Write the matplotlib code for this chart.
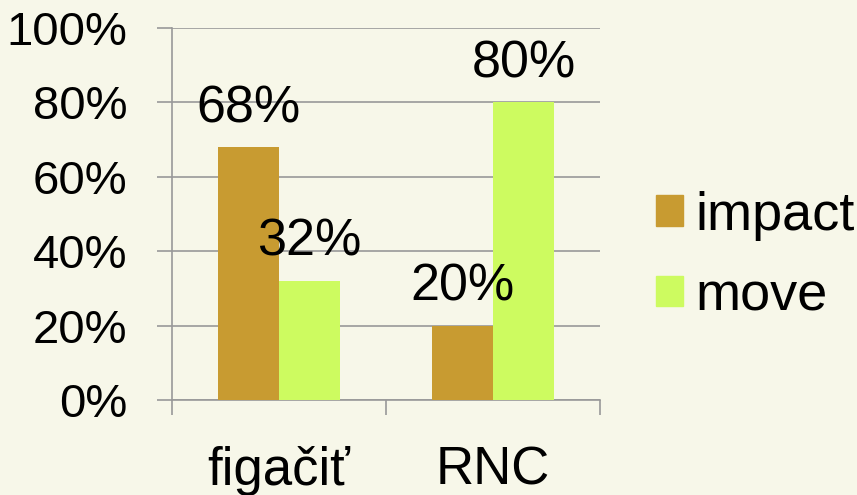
import numpy as np
import matplotlib.pyplot as plt
from matplotlib.patches import Patch

categories = ['figačiť', 'RNC']
series = ['impact', 'move']
impact = [68, 20]
move = [32, 80]
colors = ['#C89B31', '#CDFB60']
bg = '#F7F7E9'

plt.rcParams['font.family'] = ['Liberation Sans', 'DejaVu Sans']

fig = plt.figure(figsize=(8.57, 4.95), dpi=100, facecolor=bg)
ax = fig.add_axes([172 / 857, 1 - 400 / 495, 428 / 857, 372 / 495])
ax.set_facecolor(bg)

x = np.arange(len(categories))
w = 0.285
vals = [impact, move]
for i, (name, v) in enumerate(zip(series, vals)):
    pos = x + (i - 0.5) * w
    ax.bar(pos, v, width=w, color=colors[i], label=name, zorder=3)
    for px, pv in zip(pos, v):
        ax.annotate(f'{pv}%', (px, pv), xytext=(0, 18), textcoords='offset points',
                    ha='center', va='baseline', fontsize=37.5, zorder=4)

ax.set_xlim(-0.5, 1.5)
ax.set_ylim(0, 100)
ax.set_yticks(range(0, 101, 20))
ax.set_yticklabels([f'{t}%' for t in range(0, 101, 20)], fontsize=34)
ax.set_xticks([0, 1])
ax.set_xticklabels(categories, fontsize=38)
ax.set_xticks([-0.5, 0.5, 1.5], minor=True)
ax.tick_params(axis='x', which='major', length=0, pad=33)
ax.tick_params(axis='x', which='minor', length=11, color='#999999', width=1.2)
ax.tick_params(axis='y', length=11, color='#999999', width=1.2, pad=21)
ax.grid(axis='y', color='#999999', linewidth=1.2, zorder=0)
for s in ['top', 'right']:
    ax.spines[s].set_visible(False)
ax.spines['left'].set_color('#999999')
ax.spines['bottom'].set_color('#999999')
ax.spines['left'].set_linewidth(1.2)
ax.spines['bottom'].set_linewidth(1.2)

handles = [Patch(color=c) for c in colors]
fig.legend(handles, series, loc='center left', bbox_to_anchor=(607 / 857, 1 - 256 / 495),
           frameon=False, fontsize=39, handlelength=0.5, handleheight=0.5,
           handletextpad=0.24, labelspacing=0.56)

fig.savefig('out.png', dpi=100, facecolor=bg)
